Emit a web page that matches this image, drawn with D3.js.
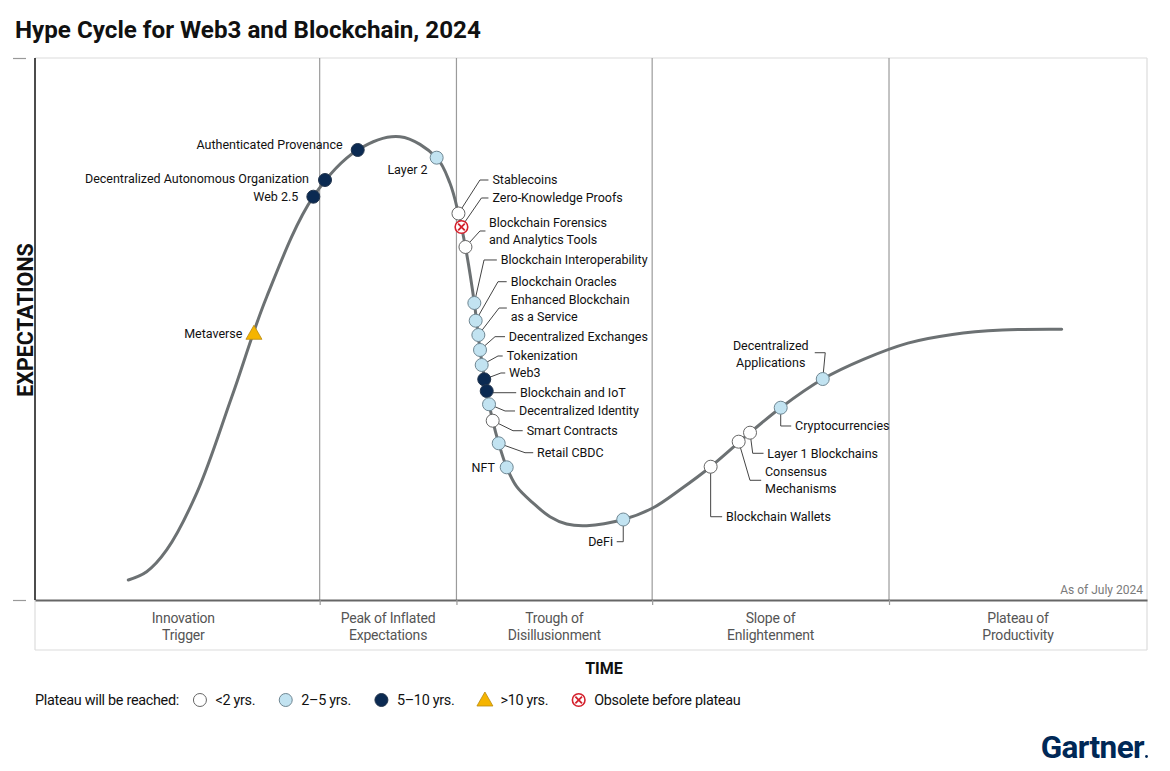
<!DOCTYPE html>
<html>
<head>
<meta charset="utf-8">
<script src="https://cdn.jsdelivr.net/npm/d3@7"></script>
<style>
  body { margin: 0; background: #fff; }
  svg text { font-family: Roboto, "Noto Sans", sans-serif; }
</style>
</head>
<body>
<div id="chart"></div>
<script>
// Hype curve (time 0-100, expectations 0-100)
const curveTime = [8.39, 10.04, 11.84, 14.6, 17.7, 20.84, 25.03, 29.02, 32.82, 36.12, 37.32,
  38.08, 38.71, 39.51, 40.02, 40.62, 41.16, 41.70, 42.42, 43.32, 44.78, 46.31, 47.81, 49.61, 52.90, 55.51, 58.09, 60.76, 64.30, 67.06, 70.84,
  74.5, 78.5, 82.5, 87.0, 92.33];
const curveExpect = [3.69, 5.22, 9.23, 20.0, 37.5, 55.96, 74.41, 83.03, 85.48, 81.61, 76.88,
  71.31, 65.13, 54.80, 46.13, 38.56, 33.08, 28.91, 24.48, 20.90, 17.90, 15.37, 14.02, 13.71, 14.85, 16.92, 20.48, 24.59, 30.87, 35.48, 40.77,
  44.4, 47.4, 49.0, 49.8, 49.94];

// Technologies on the curve
const techNames = ['Metaverse', 'Web 2.5', 'Decentralized Autonomous Organization', 'Authenticated Provenance', 'Layer 2',
  'Stablecoins', 'Zero-Knowledge Proofs', 'Blockchain Forensics\nand Analytics Tools', 'Blockchain Interoperability',
  'Blockchain Oracles', 'Enhanced Blockchain\nas a Service', 'Decentralized Exchanges', 'Tokenization', 'Web3',
  'Blockchain and IoT', 'Decentralized Identity', 'Smart Contracts', 'Retail CBDC', 'NFT', 'DeFi',
  'Blockchain Wallets', 'Consensus\nMechanisms', 'Layer 1 Blockchains', 'Cryptocurrencies', 'Decentralized\nApplications'];
const techTime = [19.69, 25.03, 26.08, 29.02, 36.12, 38.08, 38.35, 38.71, 39.51, 39.63, 39.87, 40.02, 40.17, 40.40, 40.62, 40.83, 41.16, 41.70, 42.42,
  52.90, 60.76, 63.28, 64.30, 67.06, 70.84];
const techExpect = [49.21, 74.41, 77.49, 83.03, 81.61, 71.31, 68.82, 65.13, 54.80, 51.53, 48.89, 46.13, 43.36, 40.72, 38.56, 36.11, 33.08, 28.91, 24.48,
  14.85, 24.59, 29.21, 30.87, 35.48, 40.77];
const techPlateau = ['gt10', '5to10', '5to10', '5to10', '2to5', 'lt2', 'obsolete', 'lt2', '2to5', '2to5', '2to5', '2to5', '2to5', '5to10',
  '5to10', '2to5', 'lt2', '2to5', '2to5', '2to5', 'lt2', 'lt2', 'lt2', '2to5', '2to5'];

// Phases
const phaseBounds = [25.6, 37.9, 55.5, 76.8];
const phaseNames = [['Innovation', 'Trigger'], ['Peak of Inflated', 'Expectations'], ['Trough of', 'Disillusionment'], ['Slope of', 'Enlightenment'], ['Plateau of', 'Productivity']];

// Legend
const legendKeys = ['lt2', '2to5', '5to10', 'gt10', 'obsolete'];
const legendLabels = ['<2 yrs.', '2\u20135 yrs.', '5\u201310 yrs.', '>10 yrs.', 'Obsolete before plateau'];

// label placement relative to marker (px)
const labelLayout = {
  'Metaverse': { a: 'end', dx: -11.5, dy: 0 },
  'Web 2.5': { a: 'end', dx: -15, dy: 0 },
  'Decentralized Autonomous Organization': { a: 'end', dx: -16, dy: -1 },
  'Authenticated Provenance': { a: 'end', dx: -15, dy: -5 },
  'Layer 2': { a: 'end', dx: -9, dy: 12 },
  'Stablecoins': { dx: 34, dy: -33.5, lead: [[21.5, -33.5], [30, -33.5]] },
  'Zero-Knowledge Proofs': { dx: 31, dy: -29, lead: [[20, -29], [27, -29]] },
  'Blockchain Forensics\nand Analytics Tools': { dx: 23.5, dy: -16, lead: [[14.5, -16], [20, -16]] },
  'Blockchain Interoperability': { dx: 26.4, dy: -43, lead: [[9.7, -43], [22.5, -43]] },
  'Blockchain Oracles': { dx: 35, dy: -39, lead: [[22.3, -39], [31, -39]] },
  'Enhanced Blockchain\nas a Service': { dx: 32.4, dy: -27, lead: [[20.7, -27], [28.5, -27]] },
  'Decentralized Exchanges': { dx: 28.7, dy: -13.3, lead: [[15, -13.3], [25, -13.3]] },
  'Tokenization': { dx: 25, dy: -9, lead: [[16.3, -9], [21, -9]] },
  'Web3': { dx: 24.7, dy: -6.3, lead: [[16.7, -6.3], [21, -6.3]] },
  'Blockchain and IoT': { dx: 33.3, dy: 1.7, lead: [[5, 1.7], [29.5, 1.7]] },
  'Decentralized Identity': { dx: 30, dy: 6.7, lead: [[16, 6.7], [26, 6.7]] },
  'Smart Contracts': { dx: 34, dy: 10, lead: [[20.3, 10], [30, 10]] },
  'Retail CBDC': { dx: 38.3, dy: 9.4, lead: [[26.3, 9.4], [34.5, 9.4]] },
  'NFT': { a: 'end', dx: -11.7, dy: 0 },
  'DeFi': { a: 'end', dx: -10.3, dy: 22.2, lead: [[0, 22.2], [-6.5, 22.2]] },
  'Blockchain Wallets': { dx: 15.3, dy: 50, lead: [[0, 50], [11.5, 50]] },
  'Consensus\nMechanisms': { dx: 26.3, dy: 38.6, lead: [[11.3, 38.6], [22.5, 38.6]] },
  'Layer 1 Blockchains': { dx: 17.3, dy: 20.6, lead: [[2.7, 20.6], [13.5, 20.6]] },
  'Cryptocurrencies': { dx: 14.3, dy: 18.3, lead: [[0, 18.3], [10.5, 18.3]] },
  'Decentralized\nApplications': { a: 'middle', dx: -52, dy: -25, lead: [[2.5, -26.3], [-8, -26.3]] }
};

const svgWidth = 1170;
const svgHeight = 771;

const svg = d3.select('#chart')
  .append('svg')
  .attr('width', svgWidth)
  .attr('height', svgHeight)
  .style('background', '#fff');

const x = d3.scaleLinear().domain([0, 100]).range([35, 1147]);
const y = d3.scaleLinear().domain([0, 100]).range([600, 58]);
const boxBottom = 650;

// title
svg.append('text')
  .attr('x', 15).attr('y', 38)
  .style('font-size', '24.2px').style('font-weight', '700')
  .attr('fill', '#111')
  .text('Hype Cycle for Web3 and Blockchain, 2024');

// frame + phase box
const frame = svg.append('g').attr('stroke', '#dcdcdc').attr('stroke-width', 1.2);
frame.append('line').attr('x1', x(0)).attr('x2', x(100)).attr('y1', y(100)).attr('y2', y(100));
frame.append('line').attr('x1', x(100)).attr('x2', x(100)).attr('y1', y(100)).attr('y2', boxBottom);
frame.append('line').attr('x1', x(0)).attr('x2', x(100)).attr('y1', boxBottom).attr('y2', boxBottom);
frame.append('line').attr('x1', x(0)).attr('x2', x(0)).attr('y1', y(0)).attr('y2', boxBottom);

// phase dividers
svg.append('g').selectAll('line')
  .data(phaseBounds)
  .enter()
  .append('line')
  .attr('x1', d => x(d)).attr('x2', d => x(d))
  .attr('y1', y(100)).attr('y2', y(0))
  .attr('stroke', '#9b9b9b').attr('stroke-width', 1.2);

// bottom axis
const bottomAxis = svg.append('g')
  .attr('transform', `translate(0, ${y(0)})`)
  .call(d3.axisBottom(x).tickValues(phaseBounds).tickSize(5).tickSizeOuter(0).tickFormat(''));
bottomAxis.select('.domain').attr('stroke', '#666').attr('stroke-width', 1.8);
bottomAxis.selectAll('.tick line').attr('stroke', '#9b9b9b').attr('stroke-width', 1.2);

// left ticks (detached from the axis line)
const leftTicks = svg.append('g')
  .attr('transform', 'translate(26, 0)')
  .call(d3.axisLeft(y).tickValues([0, 100]).tickSize(13).tickFormat(''));
leftTicks.select('.domain').remove();
leftTicks.selectAll('.tick line').attr('stroke', '#999').attr('stroke-width', 1.2);

// left axis line
svg.append('line')
  .attr('x1', x(0)).attr('x2', x(0))
  .attr('y1', y(100)).attr('y2', y(0))
  .attr('stroke', '#111').attr('stroke-width', 1.5);

// phase labels
const phaseEdges = [0].concat(phaseBounds, [100]);
phaseNames.forEach((lines, i) => {
  const cx = (x(phaseEdges[i]) + x(phaseEdges[i + 1])) / 2 + (i === 0 ? 6 : 0);
  lines.forEach((ln, j) => {
    svg.append('text')
      .attr('x', cx).attr('y', 618 + j * 17)
      .attr('dy', '0.35em')
      .attr('text-anchor', 'middle')
      .style('font-size', '14px')
      .style('letter-spacing', '-0.2px')
      .attr('fill', '#555')
      .text(ln);
  });
});

svg.append('text')
  .attr('x', 1143).attr('y', 590).attr('dy', '0.35em')
  .attr('text-anchor', 'end')
  .style('font-size', '12px')
  .attr('fill', '#7a7a7a')
  .text('As of July 2024');

// axis titles
svg.append('text')
  .attr('x', 604).attr('y', 668).attr('dy', '0.35em')
  .attr('text-anchor', 'middle')
  .style('font-size', '16px').style('font-weight', '700')
  .attr('fill', '#111')
  .text('TIME');

svg.append('text')
  .attr('transform', 'translate(25, 320) rotate(-90)')
  .attr('dy', '0.35em')
  .attr('text-anchor', 'middle')
  .style('font-size', '21.5px').style('font-weight', '700')
  .attr('fill', '#111')
  .text('EXPECTATIONS');

// curve
const curveData = curveTime.map((t, i) => [t, curveExpect[i]]);
svg.append('path')
  .datum(curveData)
  .attr('fill', 'none')
  .attr('stroke', '#6c7173')
  .attr('stroke-width', 3)
  .attr('stroke-linecap', 'round')
  .attr('d', d3.line()
    .x(d => x(d[0]))
    .y(d => y(d[1]))
    .curve(d3.curveCatmullRom.alpha(0.5)));

// marker drawing
function drawMarker(g, type, cx, cy) {
  if (type === 'gt10') {
    g.append('path')
      .attr('d', `M${cx},${cy - 8} L${cx + 8},${cy + 6} L${cx - 8},${cy + 6} Z`)
      .attr('fill', '#f5b400').attr('stroke', '#b98a10').attr('stroke-width', 0.8);
    return;
  }
  if (type === 'obsolete') {
    g.append('circle').attr('cx', cx).attr('cy', cy).attr('r', 6.3)
      .attr('fill', '#fff').attr('stroke', '#d4202c').attr('stroke-width', 1.6);
    const k = 3.3;
    g.append('path')
      .attr('d', `M${cx - k},${cy - k} L${cx + k},${cy + k} M${cx + k},${cy - k} L${cx - k},${cy + k}`)
      .attr('stroke', '#d4202c').attr('stroke-width', 1.8);
    return;
  }
  const fills = { lt2: '#ffffff', '2to5': '#c2e3f1', '5to10': '#0b2a52' };
  const strokes = { lt2: '#666', '2to5': '#6f8793', '5to10': '#23354d' };
  g.append('circle').attr('cx', cx).attr('cy', cy).attr('r', 6.5)
    .attr('fill', fills[type]).attr('stroke', strokes[type]).attr('stroke-width', 1);
}

const leaderGroup = svg.append('g');
const markerGroup = svg.append('g');
const labelGroup = svg.append('g');

techNames.forEach((name, i) => {
  const cx = x(techTime[i]);
  const cy = y(techExpect[i]);
  const lay = labelLayout[name];
  if (lay.lead) {
    const pts = [[cx, cy]].concat(lay.lead.map(p => [cx + p[0], cy + p[1]]));
    leaderGroup.append('path')
      .attr('d', d3.line()(pts))
      .attr('fill', 'none')
      .attr('stroke', '#444')
      .attr('stroke-width', 1);
  }
  drawMarker(markerGroup, techPlateau[i], cx, cy);

  const lines = name.split('\n');
  const lh = 17.5;
  const top = cy + lay.dy - (lines.length - 1) * lh / 2;
  lines.forEach((ln, j) => {
    labelGroup.append('text')
      .attr('x', cx + lay.dx)
      .attr('y', top + j * lh)
      .attr('dy', '0.35em')
      .attr('text-anchor', lay.a || 'start')
      .style('font-size', '12.5px')
      .attr('fill', '#111')
      .text(ln);
  });
});

// legend
const legend = svg.append('g');
const legendY = 700;
const legendTitle = legend.append('text')
  .attr('x', 35).attr('y', legendY).attr('dy', '0.35em')
  .style('font-size', '14.4px').style('letter-spacing', '-0.3px')
  .attr('fill', '#111')
  .text('Plateau will be reached:');
let cursor = 35 + legendTitle.node().getComputedTextLength() + 21;
legendKeys.forEach((key, i) => {
  drawMarker(legend, key, cursor, legendY);
  const t = legend.append('text')
    .attr('x', cursor + 15.5).attr('y', legendY).attr('dy', '0.35em')
    .style('font-size', '14.4px').style('letter-spacing', '-0.3px')
    .attr('fill', '#111')
    .text(legendLabels[i]);
  cursor = cursor + 15.5 + t.node().getComputedTextLength() + 30.5;
});

// logo
svg.append('text')
  .attr('x', 1144).attr('y', 758)
  .attr('text-anchor', 'end')
  .style('font-size', '31.5px').style('font-weight', '700')
  .style('letter-spacing', '-0.6px')
  .attr('fill', '#002856')
  .text('Gartner');
svg.append('circle')
  .attr('cx', 1146.5).attr('cy', 756.5).attr('r', 1.4)
  .attr('fill', '#002856');
</script>
</body>
</html>
